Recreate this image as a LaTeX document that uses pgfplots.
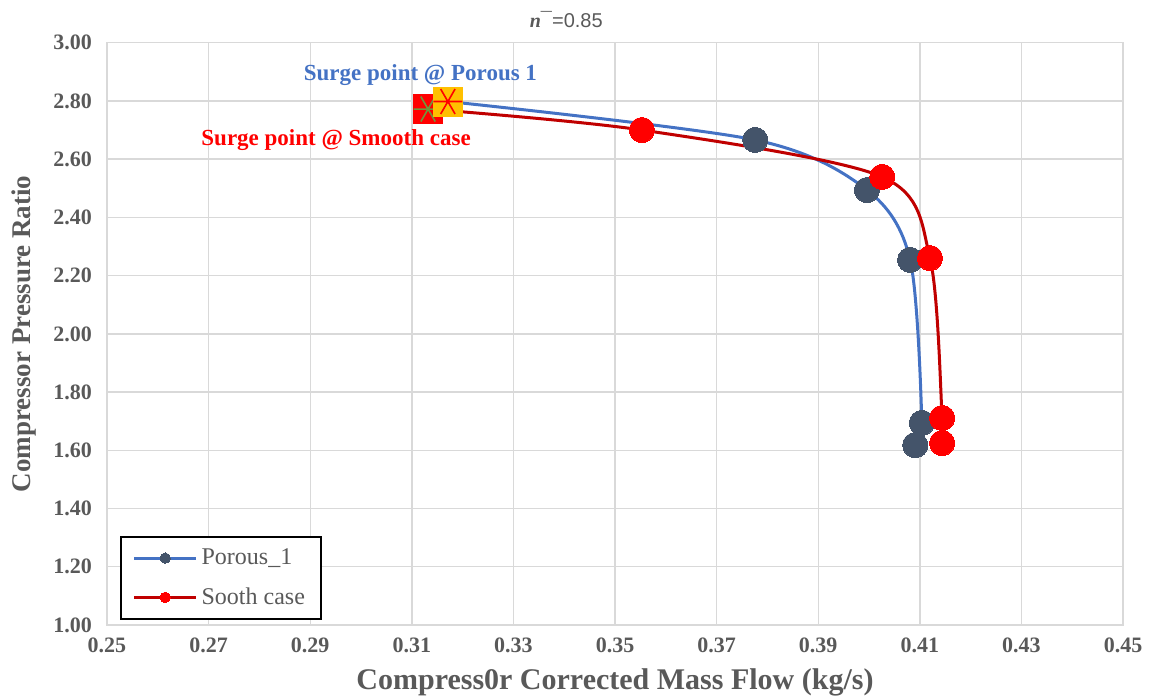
\documentclass[border=0pt]{standalone}
\usepackage{pgfplots}
\pgfplotsset{compat=1.18}
\usepackage{fontspec}
\setmainfont{Liberation Serif}
\newfontfamily\sansf{Liberation Sans}
\definecolor{tickgray}{HTML}{595959}
\definecolor{gridgray}{HTML}{D9D9D9}
\definecolor{pline}{HTML}{4472C4}
\definecolor{pmark}{HTML}{44546A}
\definecolor{rline}{HTML}{C00000}
\definecolor{rmark}{HTML}{FF0000}
\definecolor{surgeorange}{HTML}{FFC000}
\definecolor{surgegreen}{HTML}{70963C}
\begin{document}
\begin{tikzpicture}
\begin{axis}[
  scale only axis,
  width=508pt, height=291.15pt,
  xmin=0.25, xmax=0.45, ymin=1, ymax=3,
  xtick={0.25,0.27,0.29,0.31,0.33,0.35,0.37,0.39,0.41,0.43,0.45},
  ytick={1,1.2,1.4,1.6,1.8,2,2.2,2.4,2.6,2.8,3},
  xticklabels={0.25,0.27,0.29,0.31,0.33,0.35,0.37,0.39,0.41,0.43,0.45},
  yticklabels={1.00,1.20,1.40,1.60,1.80,2.00,2.20,2.40,2.60,2.80,3.00},
  grid=major,
  major grid style={draw=gridgray, line width=0.7pt},
  axis line style={draw=gridgray, line width=0.7pt},
  tick style={draw=none},
  ticklabel style={font=\rmfamily\bfseries\fontsize{11}{13}\selectfont, text=tickgray},
  xticklabel style={yshift=-3pt},
  yticklabel style={xshift=-4pt},
  xlabel={Compress0r Corrected Mass Flow (kg/s)},
  ylabel={Compressor Pressure Ratio},
  xlabel style={font=\rmfamily\bfseries\fontsize{15}{17}\selectfont, text=tickgray,
    at={(axis description cs:0.5,-0.098)}, anchor=center},
  ylabel style={font=\rmfamily\bfseries\fontsize{13.5}{15}\selectfont, text=tickgray,
    at={(axis description cs:-0.082,0.5)}, anchor=center},
  legend style={at={(rel axis cs:0.0128,0.0086)}, anchor=south west,
    draw=black, line width=0.8pt, fill=white,
    font=\rmfamily\fontsize{12}{14}\selectfont, text=tickgray,
    inner xsep=6pt, inner ysep=4pt, row sep=6pt,
    /tikz/every even column/.append style={column sep=2pt}},
  legend cell align=left,
  legend image code/.code={%
    \draw[#1, mark size=2.6pt, mark repeat=2, mark phase=2, line width=1.4pt]
      plot coordinates {(0pt,0pt) (15.5pt,0pt) (31pt,0pt)};},
  clip=false,
]
\addplot[color=pline, line width=1.5pt, smooth, tension=0.5,
  mark=*, mark size=6.3pt, mark options={fill=pmark, draw=pmark, line width=0pt}]
  coordinates {(0.3171,2.798) (0.3776,2.666) (0.3996,2.494) (0.4081,2.254) (0.4104,1.694) (0.4091,1.618)};
\addlegendentry{Porous\_1}
\addplot[color=rline, line width=1.5pt, smooth, tension=0.5,
  mark=*, mark size=6.3pt, mark options={fill=rmark, draw=rmark, line width=0pt}]
  coordinates {(0.3132,2.772) (0.3553,2.700) (0.4026,2.539) (0.4120,2.260) (0.4144,1.711) (0.4144,1.625)};
\addlegendentry{Sooth case}
% surge markers
\addplot[forget plot, only marks, mark=square*, mark size=7.4pt,
  mark options={fill=rmark, draw=rmark}] coordinates {(0.3132,2.772)};
\addplot[forget plot, only marks, mark=asterisk, mark size=7.2pt,
  mark options={draw=surgegreen, line width=0.8pt, rotate=90}] coordinates {(0.3132,2.772)};
\addplot[forget plot, only marks, mark=square*, mark size=7.2pt,
  mark options={fill=surgeorange, draw=surgeorange}] coordinates {(0.3171,2.798)};
\addplot[forget plot, only marks, mark=asterisk, mark size=7.2pt,
  mark options={draw=rmark, line width=0.8pt, rotate=90}] coordinates {(0.3171,2.798)};
% annotations
\node[font=\rmfamily\bfseries\fontsize{11.5}{13}\selectfont, text=pline] at (axis cs:0.3117,2.890) {Surge point @ Porous 1};
\node[font=\rmfamily\bfseries\fontsize{11.5}{13}\selectfont, text=rmark] at (axis cs:0.2951,2.667) {Surge point @ Smooth case};
\node[font=\sansf\fontsize{10}{12}\selectfont, text=tickgray] at (rel axis cs:0.452,1) [yshift=11.5pt]
  {\textbf{\textit{\rmfamily n}}\raisebox{0.15ex}{\textbf{\char"00AF}}=0.85};
\end{axis}
\pgfresetboundingbox
\path[use as bounding box] (-53.5pt,-36.5pt) rectangle (522pt,312.5pt);
\end{tikzpicture}
\end{document}
